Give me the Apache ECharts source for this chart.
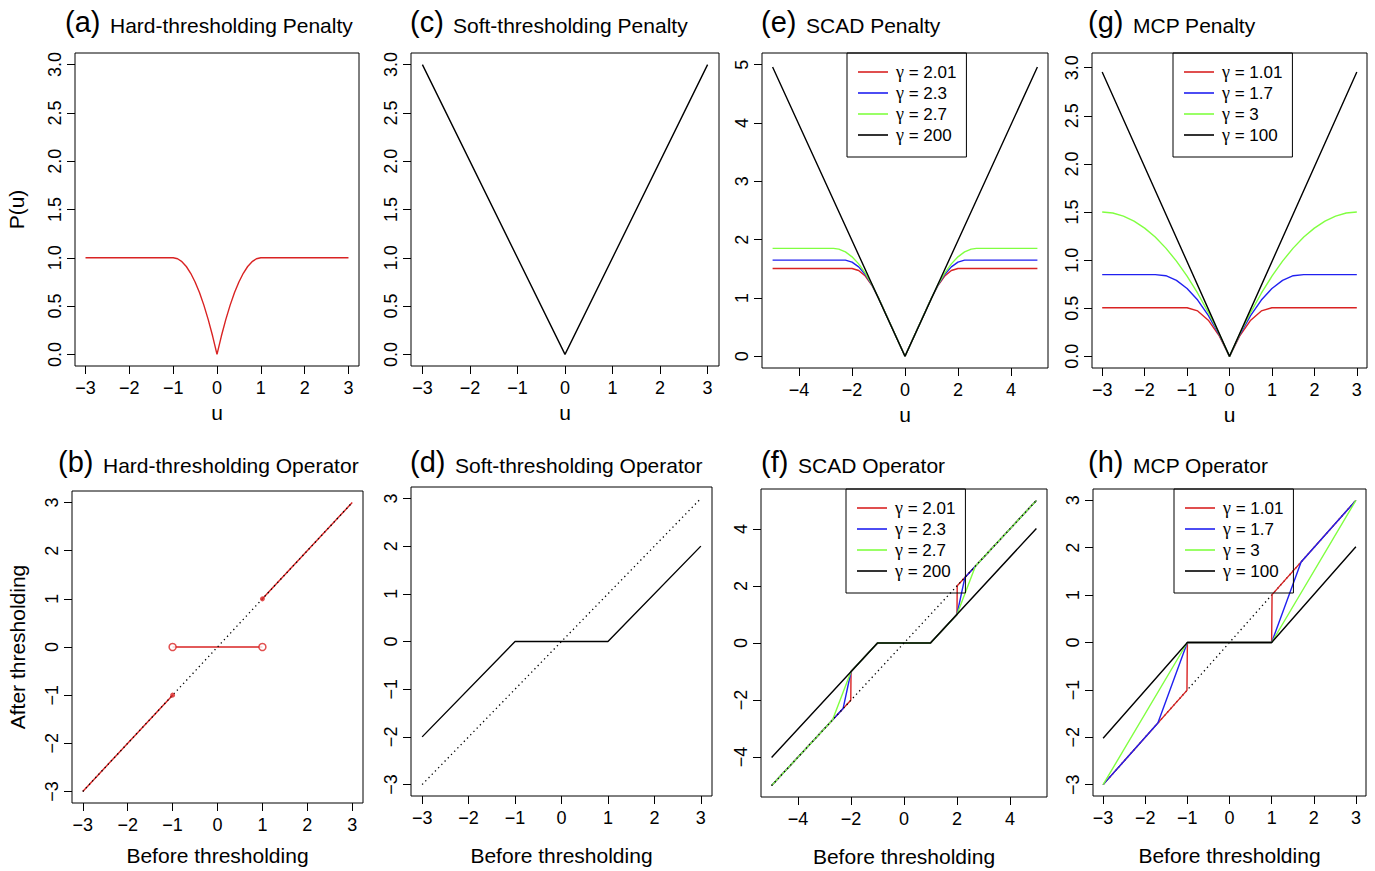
<!DOCTYPE html>
<html>
<head>
<meta charset="utf-8">
<script src="https://cdn.jsdelivr.net/npm/echarts@6.0.0/dist/echarts.min.js"></script>
<style>
html, body { margin: 0; padding: 0; background: #fff; }
#main { width: 1375px; height: 871px; }
</style>
</head>
<body>
<div id="main"></div>
<script>
// 初始化 echarts 实例 (svg, so every label stays real text)
let myChart = echarts.init(document.getElementById('main'), null, { renderer: 'svg' });

const FONT = '"Liberation Sans", Arial, Helvetica, sans-serif';
const RED = '#D92323', BLUE = '#2020F0', GREEN = '#80FF40', BLACK = '#000000';

// tick values
const uTicks = [-3, -2, -1, 0, 1, 2, 3];
const uTicksWide = [-4, -2, 0, 2, 4];
const penTicks = [0, 0.5, 1, 1.5, 2, 2.5, 3];
const scadPenTicks = [0, 1, 2, 3, 4, 5];
const opTicks = [-3, -2, -1, 0, 1, 2, 3];
const opTicksWide = [-4, -2, 0, 2, 4];

// legend names
const scadNames = ['γ = 2.01', 'γ = 2.3', 'γ = 2.7', 'γ = 200'];
const mcpNames = ['γ = 1.01', 'γ = 1.7', 'γ = 3', 'γ = 100'];

// (a) hard-thresholding penalty
const hardPenU = [-3, -1, -0.9, -0.8, -0.7, -0.6, -0.5, -0.4, -0.3, -0.2, -0.1, 0, 0.1, 0.2, 0.3, 0.4, 0.5, 0.6, 0.7, 0.8, 0.9, 1, 3];
const hardPenP = [1, 1, 0.99, 0.96, 0.91, 0.84, 0.75, 0.64, 0.51, 0.36, 0.19, 0, 0.19, 0.36, 0.51, 0.64, 0.75, 0.84, 0.91, 0.96, 0.99, 1, 1];

// (b) hard-thresholding operator
const hardLowZ = [-3, -1], hardLowT = [-3, -1];
const hardMidZ = [-1, 1], hardMidT = [0, 0];
const hardHighZ = [1, 3], hardHighT = [1, 3];
const hardOpenZ = [-1, 1], hardOpenT = [0, 0];
const hardDotZ = [-1, 1], hardDotT = [-1, 1];
const identity3 = [-3, 3];

// (c) soft-thresholding penalty
const softPenU = [-3, 0, 3];
const softPenP = [3, 0, 3];

// (d) soft-thresholding operator
const softOpZ = [-3, -1, 1, 3];
const softOpT = [-2, 0, 0, 2];

// (e) SCAD penalty
const scadPenU = [-5, -2.7, -2.5, -2.25, -2, -1.75, -1.5, -1.25, -1, 0, 1, 1.25, 1.5, 1.75, 2, 2.25, 2.5, 2.7, 5];
const scadPenRed = [1.505, 1.505, 1.505, 1.505, 1.505, 1.472, 1.376, 1.219, 1, 0, 1, 1.219, 1.376, 1.472, 1.505, 1.505, 1.505, 1.505, 1.505];
const scadPenBlue = [1.65, 1.65, 1.65, 1.649, 1.615, 1.534, 1.404, 1.226, 1, 0, 1, 1.226, 1.404, 1.534, 1.615, 1.649, 1.65, 1.65, 1.65];
const scadPenGreen = [1.85, 1.85, 1.838, 1.79, 1.706, 1.585, 1.426, 1.232, 1, 0, 1, 1.232, 1.426, 1.585, 1.706, 1.79, 1.838, 1.85, 1.85];
const scadPenBlackU = [-5, 0, 5];
const scadPenBlack = [4.96, 0, 4.96];

// (f) SCAD operator
const scadOpRedZ = [-5, -2.01, -2, -1, 1, 2, 2.01, 5];
const scadOpRedT = [-5, -2.01, -1, 0, 0, 1, 2.01, 5];
const scadOpBlueZ = [-5, -2.3, -2, -1, 1, 2, 2.3, 5];
const scadOpBlueT = [-5, -2.3, -1, 0, 0, 1, 2.3, 5];
const scadOpGreenZ = [-5, -2.7, -2, -1, 1, 2, 2.7, 5];
const scadOpGreenT = [-5, -2.7, -1, 0, 0, 1, 2.7, 5];
const scadOpBlackZ = [-5, -1, 1, 5];
const scadOpBlackT = [-4.015, 0, 0, 4.015];
const identity5 = [-5, 5];

// (g) MCP penalty
const mcpPenU = [-3, -2.75, -2.5, -2.25, -2, -1.75, -1.5, -1.25, -1, -0.75, -0.5, -0.25, 0, 0.25, 0.5, 0.75, 1, 1.25, 1.5, 1.75, 2, 2.25, 2.5, 2.75, 3];
const mcpPenRed = [0.505, 0.505, 0.505, 0.505, 0.505, 0.505, 0.505, 0.505, 0.505, 0.472, 0.376, 0.219, 0, 0.219, 0.376, 0.472, 0.505, 0.505, 0.505, 0.505, 0.505, 0.505, 0.505, 0.505, 0.505];
const mcpPenBlue = [0.85, 0.85, 0.85, 0.85, 0.85, 0.85, 0.838, 0.79, 0.706, 0.585, 0.426, 0.232, 0, 0.232, 0.426, 0.585, 0.706, 0.79, 0.838, 0.85, 0.85, 0.85, 0.85, 0.85, 0.85];
const mcpPenGreen = [1.5, 1.49, 1.458, 1.406, 1.333, 1.24, 1.125, 0.99, 0.833, 0.656, 0.458, 0.24, 0, 0.24, 0.458, 0.656, 0.833, 0.99, 1.125, 1.24, 1.333, 1.406, 1.458, 1.49, 1.5];
const mcpPenBlackU = [-3, 0, 3];
const mcpPenBlack = [2.955, 0, 2.955];

// (h) MCP operator
const mcpOpRedZ = [-3, -1.01, -1, 1, 1.01, 3];
const mcpOpRedT = [-3, -1.01, 0, 0, 1.01, 3];
const mcpOpBlueZ = [-3, -1.7, -1, 1, 1.7, 3];
const mcpOpBlueT = [-3, -1.7, 0, 0, 1.7, 3];
const mcpOpGreenZ = [-3, -1, 1, 3];
const mcpOpGreenT = [-3, 0, 0, 3];
const mcpOpBlackZ = [-3, -1, 1, 3];
const mcpOpBlackT = [-2.02, 0, 0, 2.02];

function zip(xs, ys) {
    return xs.map((x, i) => [x, ys[i]]);
}
function fmtInt(v) {
    return String(v).replace('-', '\u2212');
}
function fmtOne(v) {
    return v.toFixed(1);
}

let grids = [], xAxes = [], yAxes = [], series = [], legends = [], graphics = [];

function addPanel(box, xr, yr, xTicks, yTicks, yFmt, xName, xGap, yName, yGap) {
    let i = grids.length;
    grids.push({
        left: box[0], top: box[1], width: box[2], height: box[3],
        show: true, borderColor: '#000', borderWidth: 1, backgroundColor: 'transparent',
        outerBoundsMode: 'none'
    });
    xAxes.push({
        gridIndex: i, type: 'value', min: xr[0], max: xr[1],
        axisLine: { show: false, onZero: false },
        axisTick: { show: true, customValues: xTicks, length: 8, lineStyle: { color: '#000', width: 1 } },
        axisLabel: { customValues: xTicks, margin: 13, fontSize: 18, color: '#000', fontFamily: FONT, formatter: fmtInt },
        splitLine: { show: false },
        name: xName, nameLocation: 'middle', nameGap: xGap,
        nameTextStyle: { fontSize: 21, color: '#000', fontFamily: FONT }
    });
    yAxes.push({
        gridIndex: i, type: 'value', min: yr[0], max: yr[1],
        axisLine: { show: false, onZero: false },
        axisTick: { show: true, customValues: yTicks, length: 8, lineStyle: { color: '#000', width: 1 } },
        axisLabel: { customValues: yTicks, margin: 11, rotate: 90, fontSize: 18, color: '#000', fontFamily: FONT, formatter: yFmt },
        splitLine: { show: false },
        name: yName, nameLocation: 'middle', nameGap: yGap,
        nameTextStyle: { fontSize: 21, color: '#000', fontFamily: FONT }
    });
    return i;
}

function addLine(p, name, xs, ys, color, dotted) {
    series.push({
        type: 'line', name: name, xAxisIndex: p, yAxisIndex: p,
        data: zip(xs, ys), symbol: 'none', silent: true, animation: false,
        lineStyle: { color: color, width: dotted ? 1.3 : 1.4, type: dotted ? [1.3, 3.3] : 'solid' },
        itemStyle: { color: color }
    });
}

function addLegend(names, left, top) {
    legends.push({
        data: names, left: left, top: top, orient: 'vertical',
        icon: 'rect', itemWidth: 30, itemHeight: 1.6, itemGap: 3,
        padding: [10, 10, 13, 11],
        borderColor: '#000', borderWidth: 1, borderRadius: 0,
        selectedMode: false,
        formatter: function (name) {
            return name.replace('γ', '{g|γ}');
        },
        textStyle: {
            fontSize: 17, color: '#000', fontFamily: FONT, padding: [0, 0, 0, 3],
            rich: { g: { fontSize: 18, fontFamily: '"Liberation Serif", "DejaVu Serif", serif', color: '#000' } }
        }
    });
}

function addTitle(tag, text, xTag, xText, yTag, yText) {
    graphics.push({
        type: 'text', x: xTag, y: yTag, silent: true,
        style: { text: tag, font: '29px ' + FONT, fill: '#000', align: 'left', verticalAlign: 'middle', textAlign: 'left', textVerticalAlign: 'middle' }
    });
    graphics.push({
        type: 'text', x: xText, y: yText, silent: true,
        style: { text: text, font: '21px ' + FONT, fill: '#000', align: 'left', verticalAlign: 'middle', textAlign: 'left', textVerticalAlign: 'middle' }
    });
}

const R3 = [-3.24, 3.24], R5 = [-5.4, 5.4];

// (a)
let pa = addPanel([75, 53, 284, 313], R3, [-0.12, 3.12], uTicks, penTicks, fmtOne, 'u', 36, 'P(u)', 48);
addLine(pa, 'hardPen', hardPenU, hardPenP, RED);
addTitle('(a)', 'Hard-thresholding Penalty', 65, 110, 22, 25);

// (b)
let pb = addPanel([72, 491, 291, 312], R3, R3, uTicks, opTicks, fmtInt, 'Before thresholding', 42, 'After thresholding', 44);
addLine(pb, 'hardLow', hardLowZ, hardLowT, RED);
addLine(pb, 'hardMid', hardMidZ, hardMidT, RED);
addLine(pb, 'hardHigh', hardHighZ, hardHighT, RED);
addLine(pb, 'identityB', identity3, identity3, BLACK, true);
series.push({
    type: 'scatter', xAxisIndex: pb, yAxisIndex: pb, silent: true, animation: false,
    data: zip(hardOpenZ, hardOpenT), symbol: 'circle', symbolSize: 7,
    itemStyle: { color: '#fff', borderColor: RED, borderWidth: 1.5 }, z: 5
});
series.push({
    type: 'scatter', xAxisIndex: pb, yAxisIndex: pb, silent: true, animation: false,
    data: zip(hardDotZ, hardDotT), symbol: 'circle', symbolSize: 5,
    itemStyle: { color: RED }, z: 5
});
addTitle('(b)', 'Hard-thresholding Operator', 58, 103, 462, 465);

// (c)
let pc = addPanel([411, 53, 308, 313], R3, [-0.12, 3.12], uTicks, penTicks, fmtOne, 'u', 36, '', 0);
addLine(pc, 'softPen', softPenU, softPenP, BLACK);
addTitle('(c)', 'Soft-thresholding Penalty', 410, 453, 22, 25);

// (d)
let pd = addPanel([411, 487, 301, 309], R3, R3, uTicks, opTicks, fmtInt, 'Before thresholding', 49, '', 0);
addLine(pd, 'softOp', softOpZ, softOpT, BLACK);
addLine(pd, 'identityD', identity3, identity3, BLACK, true);
addTitle('(d)', 'Soft-thresholding Operator', 410, 455, 462, 465);

// (e)
let pe = addPanel([762, 53, 286, 315], R5, [-0.2, 5.2], uTicksWide, scadPenTicks, fmtInt, 'u', 36, '', 0);
addLine(pe, scadNames[0], scadPenU, scadPenRed, RED);
addLine(pe, scadNames[1], scadPenU, scadPenBlue, BLUE);
addLine(pe, scadNames[2], scadPenU, scadPenGreen, GREEN);
addLine(pe, scadNames[3], scadPenBlackU, scadPenBlack, BLACK);
addLegend(scadNames, 847, 53);
addTitle('(e)', 'SCAD Penalty', 761, 806, 22, 25);

// (f)
let pf = addPanel([761, 489, 286, 308], R5, R5, uTicksWide, opTicksWide, fmtInt, 'Before thresholding', 49, '', 0);
addLine(pf, scadNames[0], scadOpRedZ, scadOpRedT, RED);
addLine(pf, scadNames[1], scadOpBlueZ, scadOpBlueT, BLUE);
addLine(pf, scadNames[2], scadOpGreenZ, scadOpGreenT, GREEN);
addLine(pf, scadNames[3], scadOpBlackZ, scadOpBlackT, BLACK);
addLine(pf, 'identityF', identity5, identity5, BLACK, true);
addLegend(scadNames, 846, 489);
addTitle('(f)', 'SCAD Operator', 761, 798, 462, 465);

// (g)
let pg = addPanel([1092, 53, 275, 315], R3, [-0.121, 3.153], uTicks, penTicks, fmtOne, 'u', 36, '', 0);
addLine(pg, mcpNames[0], mcpPenU, mcpPenRed, RED);
addLine(pg, mcpNames[1], mcpPenU, mcpPenBlue, BLUE);
addLine(pg, mcpNames[2], mcpPenU, mcpPenGreen, GREEN);
addLine(pg, mcpNames[3], mcpPenBlackU, mcpPenBlack, BLACK);
addLegend(mcpNames, 1173, 53);
addTitle('(g)', 'MCP Penalty', 1088, 1133, 22, 25);

// (h)
let ph = addPanel([1093, 489, 273, 307], R3, R3, uTicks, opTicks, fmtInt, 'Before thresholding', 49, '', 0);
addLine(ph, 'identityH', identity3, identity3, BLACK, true);
addLine(ph, mcpNames[0], mcpOpRedZ, mcpOpRedT, RED);
addLine(ph, mcpNames[1], mcpOpBlueZ, mcpOpBlueT, BLUE);
addLine(ph, mcpNames[2], mcpOpGreenZ, mcpOpGreenT, GREEN);
addLine(ph, mcpNames[3], mcpOpBlackZ, mcpOpBlackT, BLACK);
addLegend(mcpNames, 1174, 489);
addTitle('(h)', 'MCP Operator', 1088, 1133, 462, 465);

let option = {
    animation: false,
    backgroundColor: '#fff',
    textStyle: { fontFamily: FONT },
    grid: grids,
    xAxis: xAxes,
    yAxis: yAxes,
    legend: legends,
    graphic: { elements: graphics },
    series: series
};

// 使用刚指定的配置项和数据显示图表。
myChart.setOption(option);
</script>
</body>
</html>
